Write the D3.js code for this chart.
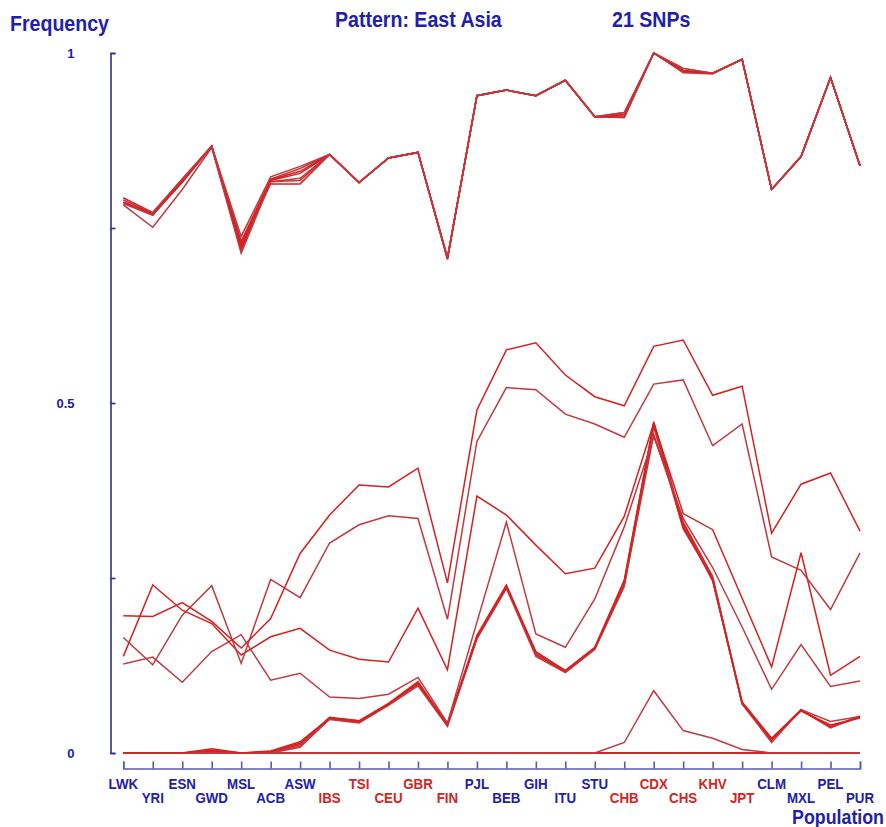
<!DOCTYPE html>
<html>
<head>
<meta charset="utf-8">
<script src="https://cdn.jsdelivr.net/npm/d3@7"></script>
<style>
  body { margin: 0; background: #fff; }
  svg { display: block; }
  text { font-family: "Liberation Sans", Arial, sans-serif; font-weight: bold; }
</style>
</head>
<body>
<svg id="chart" width="886" height="827"></svg>
<script>
// 1000 Genomes populations, in plotting order
const populations = ["LWK","YRI","ESN","GWD","MSL","ACB","ASW","IBS","TSI","CEU","GBR","FIN",
  "PJL","BEB","GIH","ITU","STU","CHB","CDX","CHS","KHV","JPT","CLM","MXL","PEL","PUR"];
// populations whose labels are set in red (European and East Asian)
const redPopulations = ["IBS","TSI","CEU","GBR","FIN","CHB","CDX","CHS","KHV","JPT"];

const yTickValues = [0, 0.25, 0.5, 0.75, 1];
const yLabelled = [0, 0.5, 1];

const titleText = "Pattern: East Asia";
const countText = "21 SNPs";
const yTitle = "Frequency";
const xTitle = "Population";

// allele frequency per SNP, one value per population (order as above)
const snp01 = [0.793,0.772,0.820,0.867,0.738,0.823,0.838,0.855,0.815,0.850,0.858,0.707,0.939,0.947,0.939,0.961,0.909,0.915,1.000,0.978,0.971,0.991,0.805,0.852,0.965,0.839];
const snp02 = [0.787,0.770,0.818,0.867,0.728,0.819,0.831,0.855,0.815,0.850,0.858,0.707,0.939,0.947,0.939,0.961,0.909,0.912,1.000,0.975,0.971,0.991,0.805,0.852,0.965,0.839];
const snp03 = [0.783,0.751,0.805,0.865,0.714,0.816,0.821,0.855,0.815,0.850,0.858,0.705,0.939,0.947,0.939,0.961,0.909,0.908,1.000,0.972,0.970,0.991,0.805,0.852,0.965,0.839];
const snp04 = [0.787,0.770,0.815,0.867,0.725,0.813,0.813,0.855,0.815,0.850,0.858,0.707,0.939,0.947,0.939,0.961,0.909,0.908,1.000,0.972,0.971,0.991,0.805,0.852,0.965,0.839];
const snp05 = [0.790,0.771,0.820,0.867,0.731,0.820,0.835,0.855,0.815,0.850,0.858,0.708,0.939,0.947,0.939,0.961,0.909,0.915,1.000,0.978,0.971,0.991,0.805,0.852,0.965,0.839];
const snp06 = [0.793,0.772,0.819,0.867,0.718,0.818,0.828,0.855,0.815,0.850,0.858,0.707,0.939,0.947,0.939,0.961,0.909,0.910,1.000,0.975,0.971,0.991,0.805,0.852,0.965,0.839];
const snp07 = [0.785,0.768,0.816,0.866,0.721,0.816,0.818,0.855,0.815,0.850,0.858,0.706,0.939,0.947,0.939,0.961,0.909,0.912,1.000,0.974,0.971,0.991,0.805,0.852,0.965,0.839];
const snp08 = [0.196,0.195,0.215,0.188,0.150,0.192,0.285,0.340,0.383,0.380,0.407,0.243,0.490,0.576,0.586,0.540,0.509,0.496,0.581,0.590,0.511,0.524,0.314,0.384,0.400,0.317];
const snp09 = [0.165,0.126,0.197,0.239,0.128,0.248,0.222,0.300,0.326,0.339,0.335,0.191,0.445,0.522,0.519,0.484,0.470,0.451,0.527,0.533,0.439,0.470,0.280,0.261,0.205,0.286];
const snp10 = [0.138,0.240,0.204,0.185,0.140,0.166,0.178,0.147,0.134,0.130,0.207,0.119,0.367,0.340,0.297,0.256,0.264,0.338,0.471,0.342,0.319,0.221,0.123,0.286,0.111,0.138];
const snp11 = [0.127,0.137,0.101,0.145,0.169,0.104,0.114,0.080,0.078,0.084,0.108,0.043,0.187,0.330,0.170,0.151,0.220,0.323,0.452,0.335,0.265,0.180,0.091,0.155,0.095,0.103];
const snp12 = [0,0,0,0.006,0,0.003,0.016,0.050,0.045,0.070,0.100,0.040,0.166,0.238,0.145,0.117,0.150,0.245,0.471,0.323,0.247,0.071,0.019,0.061,0.038,0.052];
const snp13 = [0,0,0,0,0,0,0.010,0.048,0.043,0.068,0.096,0.038,0.163,0.235,0.138,0.115,0.148,0.238,0.466,0.320,0.250,0.070,0.015,0.062,0.045,0.052];
const snp14 = [0,0,0,0.003,0,0.002,0.014,0.050,0.046,0.070,0.098,0.042,0.165,0.238,0.140,0.117,0.150,0.240,0.455,0.330,0.252,0.072,0.020,0.060,0.040,0.050];
const snp15 = [0,0,0,0,0,0,0.008,0.049,0.044,0.069,0.100,0.040,0.164,0.237,0.142,0.116,0.149,0.242,0.469,0.325,0.248,0.070,0.018,0.061,0.036,0.053];
const snp16 = [0,0,0,0.004,0,0.001,0.012,0.051,0.046,0.071,0.102,0.041,0.168,0.240,0.144,0.118,0.151,0.247,0.473,0.328,0.246,0.073,0.021,0.062,0.037,0.051];
const snp17 = [0,0,0,0,0,0,0,0,0,0,0,0,0,0,0,0,0,0.015,0.089,0.032,0.021,0.005,0,0,0,0];
const snp18 = [0,0,0,0,0,0,0,0,0,0,0,0,0,0,0,0,0,0,0,0,0,0,0,0,0,0];
const snp19 = [0,0,0,0,0,0,0,0,0,0,0,0,0,0,0,0,0,0,0,0,0,0,0,0,0,0];
const snp20 = [0,0,0,0,0,0,0,0,0,0,0,0,0,0,0,0,0,0,0,0,0,0,0,0,0,0];
const snp21 = [0,0,0,0,0,0,0,0,0,0,0,0,0,0,0,0,0,0,0,0,0,0,0,0,0,0];

// drawn bottom-up so the high-frequency bundle sits on top
const snpSeries = [snp18, snp19, snp20, snp21, snp17, snp16, snp15, snp14, snp13, snp12,
  snp11, snp10, snp09, snp08, snp07, snp06, snp05, snp04, snp03, snp02, snp01];

const blue = "#2020aa";
const red = "#d42424";
const narrow = 0.89;   // condensed lettering

const svg = d3.select("#chart");

// place a text at (px, py) with horizontally condensed glyphs
function placeNarrow(sel, px, py) {
  sel.attr("x", 0).attr("y", 0)
     .attr("transform", (d, i) => {
       const tx = typeof px === "function" ? px(d, i) : px;
       const ty = typeof py === "function" ? py(d, i) : py;
       return `translate(${tx},${ty}) scale(${narrow},1)`;
     });
  return sel;
}

const x = d3.scalePoint().domain(populations).range([123.3, 860]);
const y = d3.scaleLinear().domain([0, 1]).range([753, 53]);

// y axis: inward ticks, labels only at 0, 0.5 and 1
const yAxis = d3.axisLeft(y)
  .tickValues(yTickValues)
  .tickSize(-5)
  .tickSizeOuter(-5)
  .tickPadding(36)
  .tickFormat(d => yLabelled.includes(d) ? String(d) : "");
const gy = svg.append("g")
  .attr("transform", "translate(110.5,0)")
  .attr("color", "#2e2e92")
  .call(yAxis);
gy.select(".domain").attr("stroke-width", 1.6);
gy.selectAll(".tick line").attr("stroke-width", 1.6);
gy.selectAll(".tick text")
  .attr("fill", blue)
  .attr("font-size", 13)
  .attr("font-family", null);

// x axis: upward ticks, labels drawn separately in two staggered rows
const xAxis = d3.axisBottom(x)
  .tickSize(-7)
  .tickSizeOuter(-7)
  .tickFormat("");
const gx = svg.append("g")
  .attr("transform", "translate(0,768.5)")
  .attr("color", "#5a5ab2")
  .call(xAxis);
gx.select(".domain").attr("stroke-width", 1.6);
gx.selectAll(".tick line").attr("stroke-width", 1.6);
gx.selectAll(".tick text").remove();

const xLabels = svg.append("g")
  .selectAll("text")
  .data(populations)
  .join("text")
  .attr("text-anchor", "middle")
  .attr("font-size", 15)
  .attr("fill", d => redPopulations.includes(d) ? red : blue)
  .text(d => d);
placeNarrow(xLabels, d => x(d), (d, i) => i % 2 === 0 ? 789 : 802.5);

// frequency lines
const line = d3.line()
  .x((d, i) => x(populations[i]))
  .y(d => y(d));

svg.append("g")
  .attr("fill", "none")
  .attr("stroke-linejoin", "miter")
  .selectAll("path")
  .data(snpSeries)
  .join("path")
  .attr("d", line)
  .attr("stroke", (d, i) => i % 2 === 0 ? "#c23a40" : "#d8201f")
  .attr("stroke-width", 1.5);

// titles
placeNarrow(svg.append("text").attr("font-size", 22).attr("fill", blue).text(yTitle), 10, 31);
placeNarrow(svg.append("text").attr("font-size", 22).attr("fill", blue).text(titleText), 335, 27);
placeNarrow(svg.append("text").attr("font-size", 22).attr("fill", blue).text(countText), 612, 27);
placeNarrow(svg.append("text").attr("font-size", 20).attr("fill", blue)
  .attr("text-anchor", "end").text(xTitle), 884, 823.5);
</script>
</body>
</html>
